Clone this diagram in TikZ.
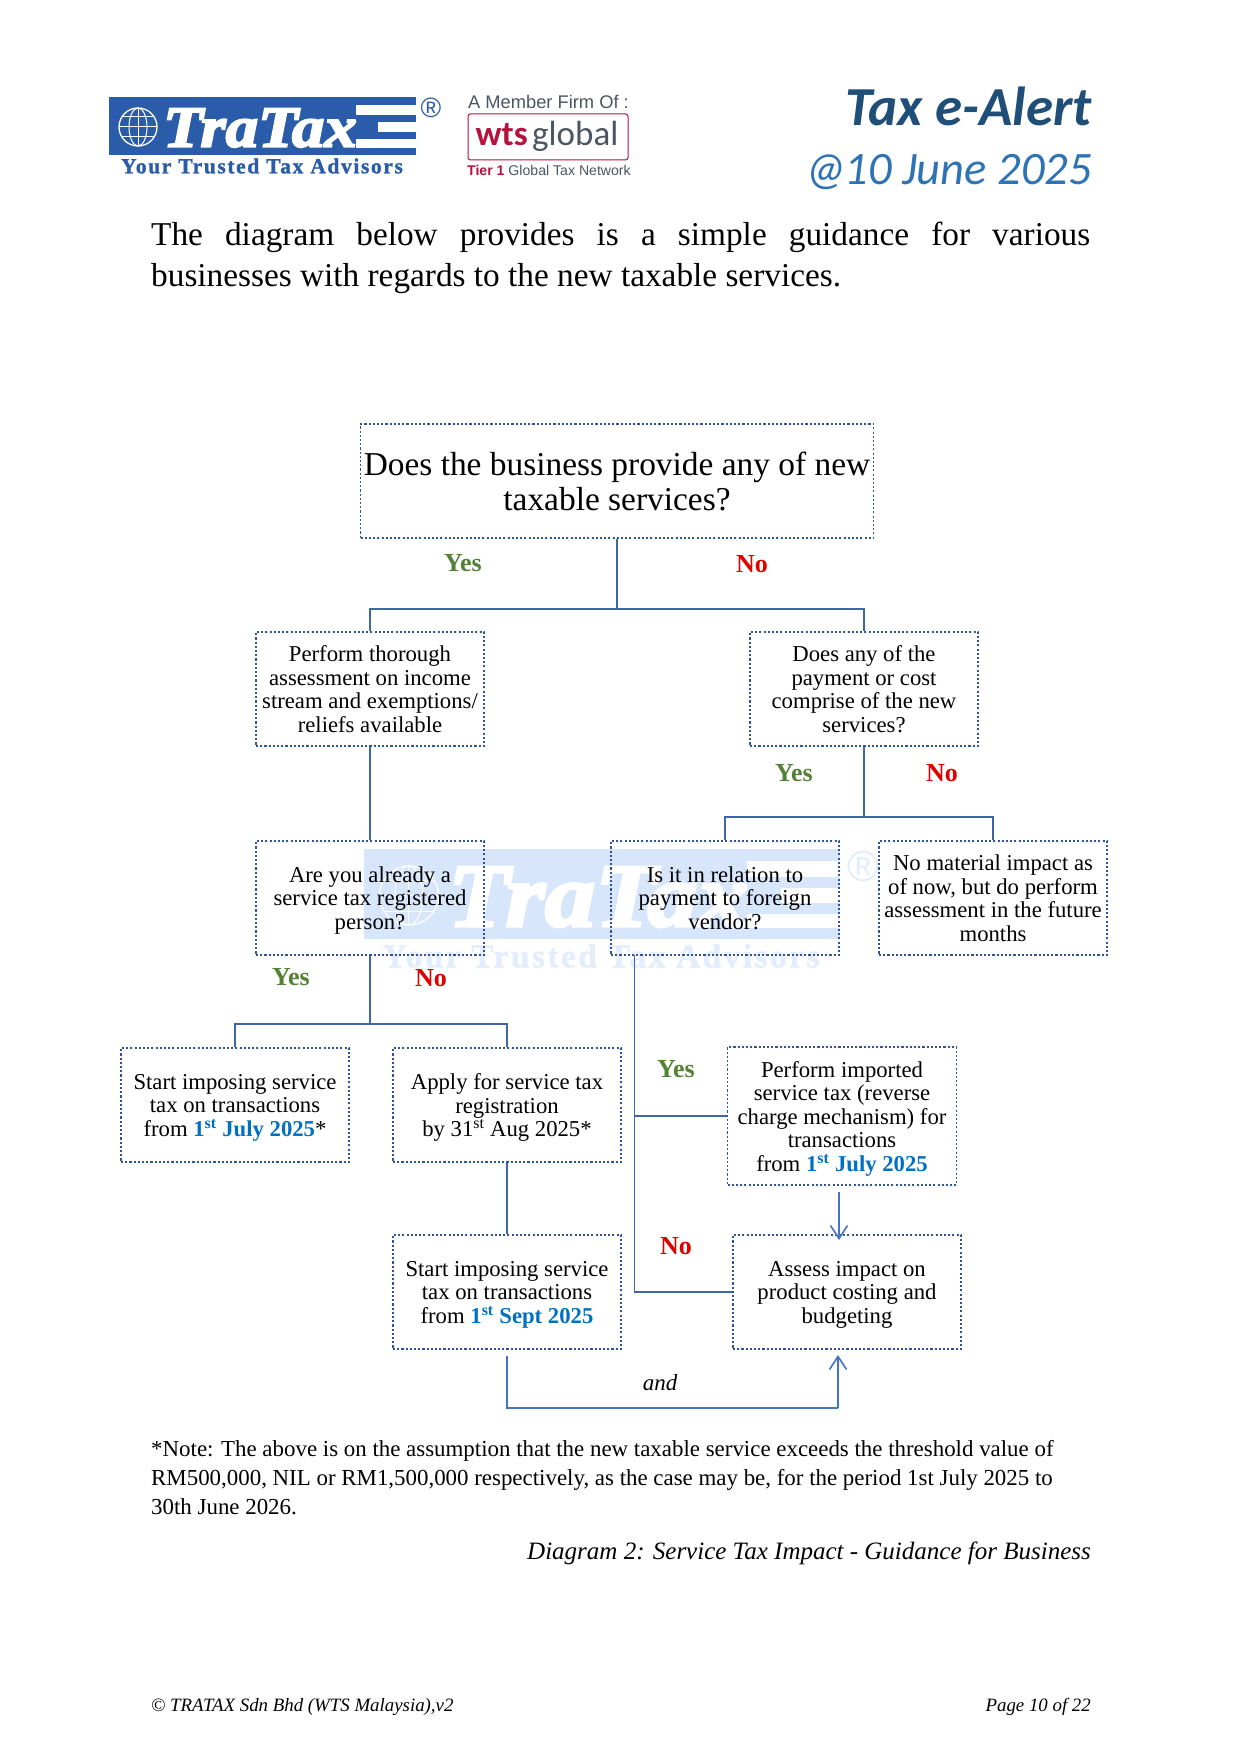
\documentclass[tikz,border=0pt]{standalone}
\usepackage{fontspec}
\setmainfont{Liberation Serif}
\newfontfamily\calib{Carlito}
\newfontfamily\arial{Liberation Sans}
\newfontfamily\logoserif[FakeBold=3.5,FakeStretch=1.12]{Liberation Serif Bold Italic}
\newfontfamily\sloganserif[FakeBold=1.2,LetterSpace=7.5]{Liberation Serif Bold}
\usetikzlibrary{arrows.meta}
\definecolor{boxblue}{HTML}{2F5597}
\definecolor{linkblue}{HTML}{3F66A8}
\definecolor{arrowblue}{HTML}{4472C4}
\definecolor{yesgreen}{HTML}{548235}
\definecolor{nored}{HTML}{E00000}
\definecolor{dateblue}{HTML}{0070C0}
\definecolor{logoblue}{HTML}{2A5CAA}
\definecolor{wmblue}{HTML}{D7E6FB}
\definecolor{wmtext}{HTML}{E3EDFC}
\definecolor{headdark}{HTML}{1F4E79}
\definecolor{headmid}{HTML}{2E74B5}
\definecolor{wtsred}{HTML}{B5123E}
\definecolor{wtsgrey}{HTML}{4D5560}
\tikzset{
  qbox/.style={draw=boxblue,line width=1.7pt,dash pattern=on 2.1pt off 2.1pt,inner sep=0pt,align=center,text depth=0pt,
     font=\fontsize{22.7}{23.5}\selectfont},
  link/.style={draw=linkblue,line width=1.9pt},
  arrowlink/.style={draw=arrowblue,line width=1.6pt,-{Straight Barb[length=13pt,width=17pt,line width=1.6pt]}},
  yeslab/.style={text=yesgreen,font=\fontsize{26}{28}\selectfont\bfseries,inner sep=0pt},
  nolab/.style={text=nored,font=\fontsize{26}{28}\selectfont\bfseries,inner sep=0pt},
  bodytext/.style={inner sep=0pt,anchor=north west,align=left,font=\fontsize{22.9}{29}\selectfont},
}
\newcommand{\dated}[1]{\textcolor{dateblue}{\textbf{#1}}}
% logo body: drawn in reference pixels
\newcommand{\trataxlogo}[3]{%
  \fill[#1] (109,97) rectangle (416,155);
  \draw[#2,line width=1.3pt] (138,127) circle (19);
  \draw[#2,line width=1pt] (138,127) ellipse (9 and 19);
  \draw[#2,line width=1pt] (119,127) -- (157,127) (138,108) -- (138,146)
     (122,117) -- (154,117) (122,137) -- (154,137);
  \fill[#2] (356,105) rectangle (416,115);
  \fill[#2] (378,122) rectangle (416,132);
  \fill[#2] (356,139) rectangle (416,148);
  \node[inner sep=0pt,text=#2,font=\fontsize{58}{58}\selectfont\logoserif] (logoname) at (260,128) {TraTax};
  \node[inner sep=0pt,text=#3,font=\fontsize{21.5}{22}\selectfont\sloganserif,anchor=center] (logoslogan) at (262,166) {Your Trusted Tax Advisors};
  \node[inner sep=0pt,text=#3,font=\fontsize{28}{28}\selectfont\arial] (logoreg) at (431,108) {®};
}
\begin{document}
\begin{tikzpicture}[x=1pt,y=-1pt]
\useasboundingbox (0,0) rectangle (1241,1755);
\fill[white] (0,0) rectangle (1241,1755);

% watermark
\begin{scope}[shift={(364,849)},xscale=1.55,yscale=1.55,transform shape]
  \begin{scope}[shift={(-109,-97)}]
    \trataxlogo{wmblue}{white}{wmtext}
  \end{scope}
\end{scope}

% header
\trataxlogo{logoblue}{white}{logoblue}
\node[inner sep=0pt,text=wtsgrey,font=\fontsize{18.3}{19}\selectfont\arial] (member) at (548.5,102) {A Member Firm Of :};
\draw[wtsred,line width=1pt,rounded corners=2.5pt,fill=white] (468,114) rectangle (628,160);
\node[inner sep=0pt,anchor=base east,text=wtsred,font=\fontsize{35}{35}\selectfont\calib\bfseries] (wts) at (528,146) {wts};
\node[inner sep=0pt,anchor=base west,text=wtsgrey,font=\fontsize{35}{35}\selectfont\calib] (global) at (532,146) {global};
\node[inner sep=0pt,anchor=west,font=\fontsize{14.1}{15}\selectfont\arial,text=wtsgrey] (tier) at (467,170) {\textcolor{wtsred}{\textbf{Tier 1}} Global Tax Network};
\node[inner sep=0pt,anchor=base east,text=headdark,font=\fontsize{55}{55}\selectfont\calib\bfseries\itshape] (title) at (1092,126) {Tax e-Alert};
\node[inner sep=0pt,anchor=base east,text=headmid,font=\fontsize{46.5}{47}\selectfont\calib\itshape] (date) at (1092,185) {@\kern-3pt 10 June 2025};

\node[inner sep=0pt,anchor=north west,text width=939pt,align=justify,font=\fontsize{33.3}{41}\selectfont] (intro) at (151,222)
  {The diagram below provides is a simple guidance for various\linebreak businesses with regards to the new taxable services.};

% boxes
\node[qbox,minimum width=513pt,minimum height=114pt,font=\fontsize{33.4}{34.5}\selectfont] (top) at (617,481) {Does the business provide any of new\\taxable services?};
\node[qbox,minimum width=228pt,minimum height=114pt] (assess) at (370,689) {Perform thorough\\assessment on income\\stream and exemptions/\\reliefs available};
\node[qbox,minimum width=228pt,minimum height=114pt] (cost) at (864,689) {Does any of the\\payment or cost\\comprise of the new\\services?};
\node[qbox,minimum width=228pt,minimum height=114pt] (reg) at (370,898) {Are you already a\\service tax registered\\person?};
\node[qbox,minimum width=228pt,minimum height=114pt] (foreign) at (725,898) {Is it in relation to\\payment to foreign\\vendor?};
\node[qbox,minimum width=228pt,minimum height=114pt] (nomat) at (993,898) {No material impact as\\of now, but do perform\\assessment in the future\\months};
\node[qbox,minimum width=228pt,minimum height=114pt] (startjul) at (235,1105) {Start imposing service\\tax on transactions\\from \dated{1\textsuperscript{st} July 2025}*};
\node[qbox,minimum width=228pt,minimum height=114pt] (apply) at (507,1105) {Apply for service tax\\registration\\by 31\textsuperscript{st} Aug 2025*};
\node[qbox,minimum width=229pt,minimum height=138pt] (imported) at (842,1116) {Perform imported\\service tax (reverse\\charge mechanism) for\\transactions\\from \dated{1\textsuperscript{st} July 2025}};
\node[qbox,minimum width=228pt,minimum height=114pt] (startsep) at (507,1292) {Start imposing service\\tax on transactions\\from \dated{1\textsuperscript{st} Sept 2025}};
\node[qbox,minimum width=228pt,minimum height=114pt] (impact) at (847,1292) {Assess impact on\\product costing and\\budgeting};

% connector waypoints
\coordinate (topfork) at (617,609);
\coordinate (costfork) at (864,817);
\coordinate (regfork) at (370,1024);
\coordinate (forstem) at (634.5,955);
\coordinate (impin) at (839,1192);
\coordinate (impout) at (839,1240);
\coordinate (sepout) at (507,1356);
\coordinate (sepdown) at (507,1408);
\coordinate (andup) at (838,1408);
\coordinate (andtip) at (838,1355);

\draw[link] (top.south) -- (topfork);
\draw[link] (assess.north) -- (assess.north |- topfork) -- (cost.north |- topfork) -- (cost.north);
\draw[link] (assess.south) -- (reg.north);
\draw[link] (cost.south) -- (costfork);
\draw[link] (foreign.north) -- (foreign.north |- costfork) -- (nomat.north |- costfork) -- (nomat.north);
\draw[link] (reg.south) -- (regfork);
\draw[link] (startjul.north) -- (startjul.north |- regfork) -- (apply.north |- regfork) -- (apply.north);
\draw[link] (forstem) -- (forstem |- impact.west) -- (impact.west);
\draw[link] (forstem |- imported.west) -- (imported.west);
\draw[link] (apply.south) -- (startsep.north);
\draw[arrowlink] (impin) -- (impout);
\draw[link,draw=arrowblue,line width=1.8pt] (sepout) -- (sepdown) -- (andup);
\draw[arrowlink] (andup) -- (andtip);

% branch labels
\node[yeslab] (y1) at (463,563) {Yes};
\node[nolab] (n1) at (752,564) {No};
\node[yeslab] (y2) at (794,773) {Yes};
\node[nolab] (n2) at (942,773) {No};
\node[yeslab] (y3) at (291,977) {Yes};
\node[nolab] (n3) at (431,978) {No};
\node[yeslab] (y4) at (676,1069) {Yes};
\node[nolab] (n4) at (676,1246) {No};
\node[inner sep=0pt,font=\fontsize{23}{24}\selectfont\itshape] (andlab) at (660,1383) {and};

% notes
\node[bodytext] (note) at (151,1440) {*Note: The above is on the assumption that the new taxable service exceeds the threshold value of\\RM500,000, NIL or RM1,500,000 respectively, as the case may be, for the period 1st July 2025 to\\30th June 2026.};
\node[inner sep=0pt,anchor=base east,font=\fontsize{25}{26}\selectfont\itshape] (caption) at (1091,1559) {Diagram 2: Service Tax Impact - Guidance for Business};
\node[inner sep=0pt,anchor=base west,font=\fontsize{18.85}{20}\selectfont\itshape] (copy) at (151,1711) {© TRATAX Sdn Bhd (WTS Malaysia),v2};
\node[inner sep=0pt,anchor=base east,font=\fontsize{18.85}{20}\selectfont\itshape] (page) at (1091,1711) {Page 10 of 22};
\end{tikzpicture}
\end{document}
